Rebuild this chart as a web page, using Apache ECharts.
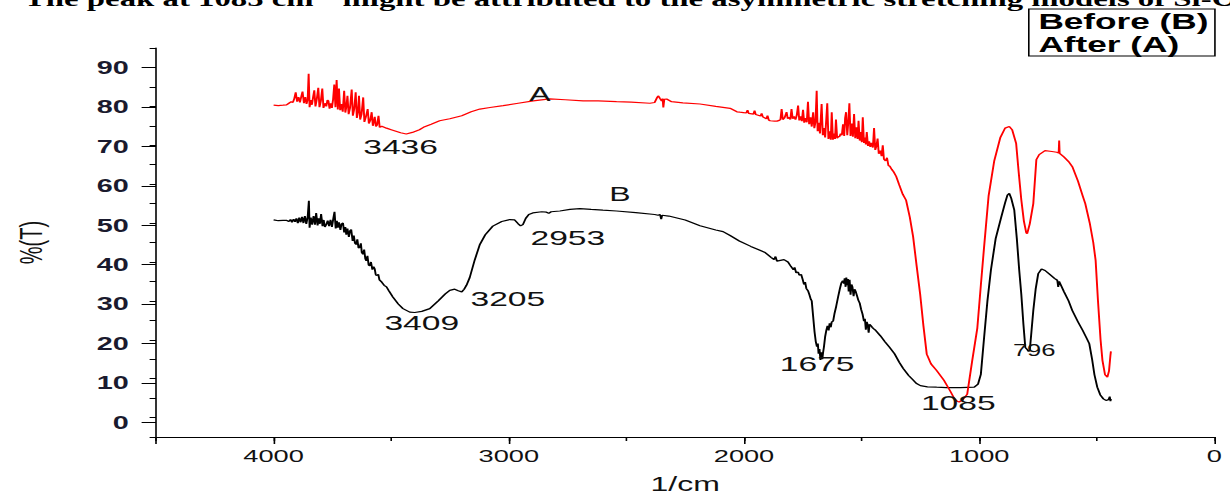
<!DOCTYPE html>
<html><head><meta charset="utf-8">
<script src="https://cdn.jsdelivr.net/npm/echarts@6/dist/echarts.min.js"></script>
<style>
html,body{margin:0;padding:0;background:#fff;overflow:hidden;width:1230px;height:499px}
#chart{width:768.75px;height:499px;transform:scaleX(1.6);transform-origin:0 0}
</style></head><body><div id="chart"></div>
<script>
// ---------------- data (wavenumber cm^-1, %T) ----------------
const afterA = [
[4000,80.3],[3980,80.2],[3960,80.3],[3945,80.4],[3935,80.8],[3925,81.2],[3918,81.0],[3912,82.0],[3906,83.6],[3900,81.2],
[3894,82.4],[3888,81.0],[3882,82.6],[3877,83.8],[3871,80.8],[3865,82.4],[3860,80.6],[3855,81.8],[3851,88.4],[3847,79.8],
[3842,81.6],[3837,80.4],[3832,82.4],[3827,84.1],[3822,80.0],[3816,82.0],[3810,84.8],[3805,79.8],[3799,81.4],[3793,84.6],
[3788,79.6],[3782,80.8],[3776,80.0],[3771,81.6],[3767,81.4],[3762,79.4],[3757,80.8],[3752,79.6],[3747,81.8],[3742,85.6],
[3737,79.8],[3732,86.8],[3727,79.2],[3722,84.6],[3717,79.0],[3712,80.6],[3706,78.6],[3700,84.0],[3695,78.4],[3690,80.2],
[3686,82.7],[3681,78.0],[3675,79.6],[3668,84.3],[3663,77.6],[3657,79.4],[3651,83.6],[3646,77.0],[3641,78.6],[3637,82.7],
[3632,76.6],[3626,78.0],[3619,82.3],[3614,76.0],[3608,77.2],[3600,79.3],[3595,75.6],[3589,76.4],[3583,78.5],[3578,75.0],
[3574,76.0],[3570,77.3],[3565,74.8],[3560,75.2],[3554,77.6],[3549,74.6],[3540,74.9],[3520,74.4],[3500,74.0],[3480,73.6],
[3460,73.2],[3436,72.9],[3410,73.3],[3380,74.0],[3363,74.6],[3330,75.4],[3294,76.3],[3251,76.8],[3200,77.6],[3160,78.6],
[3123,79.3],[3080,79.7],[3024,80.2],[2960,80.8],[2896,81.4],[2826,81.9],[2760,81.7],[2684,81.4],[2620,81.4],[2542,81.2],
[2480,81.1],[2400,80.8],[2380,81.0],[2370,82.2],[2365,82.7],[2357,82.0],[2350,81.4],[2346,82.0],[2343,79.7],[2339,81.8],
[2329,81.9],[2308,81.2],[2260,80.9],[2187,80.6],[2120,80.0],[2059,79.5],[2030,78.6],[2017,78.5],[2003,78.4],[1990,78.3],
[1985,79.0],[1980,78.2],[1960,78.0],[1955,78.9],[1950,77.9],[1930,77.5],[1925,78.2],[1920,77.3],[1905,76.8],[1900,77.6],
[1895,76.5],[1889,76.3],[1870,76.2],[1860,76.2],[1850,76.4],[1845,76.6],[1840,79.3],[1835,76.6],[1828,77.0],[1819,78.5],
[1814,76.8],[1808,77.2],[1803,76.6],[1798,79.3],[1793,76.8],[1787,77.4],[1781,76.6],[1776,77.6],[1770,80.2],[1765,76.4],
[1760,77.4],[1754,76.2],[1749,79.1],[1744,75.8],[1738,77.0],[1733,75.9],[1728,81.2],[1723,75.4],[1717,77.2],[1712,74.8],
[1706,78.5],[1701,74.4],[1696,76.0],[1691,84.0],[1687,73.6],[1682,75.8],[1677,73.0],[1670,80.6],[1665,72.6],[1660,74.4],
[1655,72.0],[1646,80.8],[1641,71.6],[1636,73.6],[1631,71.4],[1627,78.5],[1622,71.4],[1617,73.0],[1613,71.6],[1609,76.6],
[1604,71.8],[1599,72.2],[1594,72.2],[1589,73.0],[1584,72.6],[1579,75.4],[1574,72.4],[1570,77.0],[1566,78.5],[1561,72.6],
[1556,76.4],[1552,80.8],[1547,72.4],[1542,75.6],[1537,72.2],[1532,78.0],[1527,71.8],[1522,74.6],[1517,71.6],[1513,76.3],
[1508,71.2],[1503,73.4],[1499,70.8],[1495,77.2],[1490,70.6],[1485,72.0],[1482,70.2],[1478,73.4],[1473,69.8],[1468,71.0],
[1463,69.6],[1458,70.6],[1452,69.4],[1447,74.4],[1442,68.8],[1437,69.8],[1432,71.7],[1427,67.8],[1420,68.6],[1415,67.2],
[1410,70.0],[1405,66.4],[1398,66.0],[1392,66.8],[1386,64.8],[1380,64.6],[1372,63.8],[1364,63.2],[1353,62.0],[1340,59.8],
[1325,57.4],[1311,55.9],[1295,51.5],[1281,46.5],[1266,39.0],[1251,31.7],[1237,23.5],[1223,16.3],[1205,13.8],[1181,12.1],
[1150,9.6],[1123,6.8],[1105,4.8],[1094,4.2],[1085,4.0],[1070,4.6],[1051,6.0],[1030,14.5],[1008,23.0],[993,34.0],
[979,44.0],[960,57.0],[936,66.0],[910,72.0],[890,74.4],[872,74.8],[860,74.0],[843,70.5],[832,63.0],[821,56.0],
[810,50.5],[800,47.5],[796,47.3],[785,49.8],[770,55.0],[757,66.3],[745,67.6],[720,68.6],[691,68.4],[670,68.2],
[662,68.0],[660,71.2],[658,67.9],[640,67.0],[620,65.8],[604,64.5],[580,60.8],[560,57.0],[549,55.0],[530,50.0],
[515,45.0],[505,40.4],[495,30.0],[484,20.0],[476,14.7],[465,11.0],[455,10.4],[448,12.0],[442,16.0],[440,17.0]
];
const beforeB = [
[4000,50.8],[3980,50.6],[3960,50.7],[3946,50.7],[3935,50.4],[3928,50.9],[3922,50.2],[3915,51.0],[3909,50.3],[3903,51.2],
[3897,50.0],[3891,51.4],[3885,50.2],[3879,51.6],[3873,50.0],[3867,51.8],[3861,49.8],[3855,51.6],[3850,55.7],[3847,48.8],
[3842,51.4],[3836,49.6],[3830,51.8],[3824,49.6],[3819,52.6],[3813,49.4],[3808,51.2],[3803,49.8],[3798,52.3],[3792,49.2],
[3787,50.8],[3782,49.0],[3776,49.6],[3770,50.6],[3764,49.2],[3758,50.8],[3752,49.0],[3746,51.2],[3741,52.9],[3736,48.6],
[3731,50.6],[3727,48.8],[3722,50.2],[3716,48.2],[3711,49.8],[3705,50.0],[3700,47.6],[3695,49.0],[3691,47.0],[3686,48.6],
[3680,46.4],[3675,48.0],[3670,48.3],[3664,45.4],[3659,46.8],[3654,44.8],[3649,44.5],[3644,45.8],[3639,43.6],[3634,43.7],
[3629,44.8],[3625,42.4],[3620,42.0],[3615,43.2],[3610,40.8],[3606,40.3],[3601,41.6],[3596,39.2],[3591,39.0],[3586,40.0],
[3580,38.0],[3575,38.8],[3570,38.2],[3566,36.8],[3563,36.5],[3555,36.8],[3550,35.4],[3540,34.8],[3530,34.0],[3520,33.6],
[3510,32.6],[3493,31.0],[3470,29.2],[3450,28.0],[3421,27.1],[3400,27.0],[3370,27.3],[3336,28.0],[3300,30.0],[3270,31.8],
[3251,32.7],[3230,33.0],[3215,32.6],[3200,32.3],[3190,33.0],[3180,34.0],[3166,36.0],[3145,40.5],[3123,44.5],[3100,47.0],
[3068,49.2],[3030,50.4],[2996,50.9],[2975,50.8],[2960,49.8],[2950,49.3],[2940,49.6],[2928,51.2],[2915,52.2],[2898,52.6],
[2860,52.9],[2840,52.8],[2830,52.5],[2820,52.9],[2783,53.1],[2740,53.5],[2698,53.7],[2650,53.5],[2600,53.3],[2542,53.1],
[2460,52.7],[2380,52.2],[2365,52.0],[2357,52.2],[2352,51.0],[2348,52.0],[2320,51.8],[2250,50.8],[2187,49.3],[2120,48.2],
[2089,47.8],[2059,46.8],[2020,45.4],[1971,44.0],[1940,43.2],[1910,42.4],[1885,41.2],[1872,40.6],[1866,41.4],[1860,40.2],
[1845,40.4],[1830,40.6],[1813,40.0],[1800,38.8],[1790,38.0],[1785,38.6],[1778,37.2],[1770,37.4],[1765,36.6],[1757,36.8],
[1750,35.4],[1745,34.2],[1740,34.8],[1735,33.2],[1728,32.6],[1722,31.6],[1716,30.4],[1712,30.0],[1706,26.0],[1700,22.0],
[1695,19.6],[1690,18.2],[1686,19.0],[1683,16.4],[1679,17.6],[1675,14.8],[1671,16.8],[1667,15.0],[1664,16.6],[1660,18.2],
[1655,20.8],[1650,22.4],[1645,23.6],[1640,22.4],[1636,24.2],[1631,23.2],[1627,24.6],[1621,24.8],[1615,26.8],[1608,28.6],
[1600,31.0],[1592,33.2],[1586,34.6],[1580,35.2],[1575,34.4],[1572,35.8],[1568,33.6],[1565,36.0],[1561,34.0],[1558,35.6],
[1555,32.4],[1551,35.4],[1547,31.6],[1543,34.2],[1539,33.6],[1534,31.2],[1530,33.0],[1525,32.4],[1520,31.4],[1514,30.2],
[1508,29.4],[1502,27.8],[1496,26.6],[1490,24.8],[1486,25.4],[1482,22.6],[1478,24.6],[1474,23.8],[1470,21.8],[1466,24.0],
[1460,23.6],[1455,23.2],[1448,22.8],[1440,22.4],[1420,21.0],[1400,19.4],[1383,18.2],[1360,16.4],[1340,14.2],[1323,12.6],
[1300,10.8],[1280,9.6],[1268,8.8],[1250,8.2],[1220,7.9],[1181,7.8],[1140,7.7],[1080,7.7],[1021,7.8],[1005,8.6],
[993,11.1],[980,20.0],[965,30.0],[950,38.0],[930,46.0],[906,51.6],[890,55.2],[880,57.2],[872,57.6],[864,56.4],
[851,53.4],[840,46.0],[830,38.0],[821,31.7],[812,24.0],[804,18.0],[796,17.5],[790,17.0],[785,17.2],[778,22.0],
[770,27.5],[760,33.0],[749,37.0],[735,38.2],[720,37.8],[700,36.8],[680,35.8],[668,35.3],[664,33.6],[660,35.0],
[640,32.4],[620,30.0],[604,27.5],[580,24.6],[560,22.4],[545,20.6],[532,19.0],[520,15.0],[510,11.0],[498,7.8],
[485,5.8],[472,4.8],[461,4.4],[450,4.6],[445,5.4],[442,4.2],[440,4.8]
];
// peak annotations: [text, wavenumber, %T]
const labelsA = [['A',2868,83.1],['3436',3460,69.6]];
const labelsB = [['B',2528,57.4],['2953',2749,46.2],['3205',3004,30.6],['3409',3370,24.4],['1675',1689,13.7],['1085',1089,3.7],['796',766,17.2]];
const xMajorTicks = [0,1000,2000,3000,4000];
const seriesNames = ['Before (B)','After (A)'];
const topText = 'The peak at 1085 cm\u207B\u00B9 might be attributed to the asymmetric stretching models of Si-O';

// ---------------- chart ----------------
const FONT = '"Liberation Sans", Arial, sans-serif';
const chart = echarts.init(document.getElementById('chart'), null, {renderer:'svg'});
function marks(list){
  return list.map(([t,x,y]) => ({
    name:t, coord:[x,y],
    label:{fontSize: t==='796'?16:(t.length===1?20:21)}
  }));
}
const markCfg = (list) => ({
  silent:true, symbol:'circle', symbolSize:1,
  itemStyle:{color:'rgba(0,0,0,0)'},
  label:{show:true, position:'inside', formatter:'{b}', color:'#111', fontFamily:FONT},
  data: marks(list)
});
const axisLineStyle = {color:'#000', width:1};
chart.setOption({
  animation:false,
  backgroundColor:'#fff',
  graphic:[{
    type:'text', left:15, top:-11.5, silent:true, z:0,
    style:{text:topText, fill:'#000', font:'bold 20.5px "Liberation Serif", "Times New Roman", serif'}
  }],
  legend:{
    orient:'vertical', left:643, top:9, data:seriesNames,
    itemWidth:0, itemHeight:0, itemGap:1, padding:[1,4,1,0],
    borderColor:'#000', borderWidth:1, backgroundColor:'#fff',
    itemStyle:{opacity:0}, lineStyle:{opacity:0},
    textStyle:{fontSize:22, fontWeight:'bold', color:'#000', fontFamily:FONT}
  },
  grid:[
    {left:97.5, right:10, top:48, bottom:57},
    {left:97.5, right:10, top:67.7, bottom:76.7}
  ],
  xAxis:[
    {gridIndex:0, type:'value', min:0, max:4500, interval:1000, inverse:true,
     axisLine:{onZero:false, lineStyle:axisLineStyle},
     axisTick:{length:7, lineStyle:{color:'#000'}},
     axisLabel:{formatter:v => xMajorTicks.includes(v)?String(v):'', fontSize:17, color:'#111', fontFamily:FONT, margin:11},
     splitLine:{show:false},
     name:'1/cm', nameLocation:'middle', nameGap:37,
     nameTextStyle:{fontSize:20, color:'#111', fontFamily:FONT}},
    {gridIndex:0, type:'value', min:0, max:4500, interval:500, inverse:true, position:'bottom',
     axisLine:{show:false, onZero:false}, axisTick:{length:4, lineStyle:{color:'#000'}},
     axisLabel:{show:false}, splitLine:{show:false}},
    {gridIndex:1, type:'value', min:0, max:4500, inverse:true, show:false}
  ],
  yAxis:[
    {gridIndex:0, type:'value', min:-5, max:95, interval:5,
     axisLine:{show:true, onZero:false, lineStyle:axisLineStyle},
     axisTick:{show:true, length:4, lineStyle:{color:'#000'}},
     axisLabel:{show:false}, splitLine:{show:false},
     name:'%(T)', nameLocation:'middle', nameGap:68,
     nameTextStyle:{fontSize:20, color:'#111', fontFamily:FONT}},
    {gridIndex:1, type:'value', min:0, max:90, interval:10,
     axisLine:{show:false, onZero:false},
     axisTick:{show:true, length:9, lineStyle:{color:'#000'}},
     axisLabel:{fontSize:18, fontWeight:'bold', color:'#1a1a2e', fontFamily:FONT, margin:17},
     splitLine:{show:false}}
  ],
  series:[
    {name:seriesNames[0], type:'line', xAxisIndex:0, yAxisIndex:0, data:beforeB,
     showSymbol:false, symbol:'none', lineStyle:{color:'#000', width:1.2}, itemStyle:{color:'#000'},
     markPoint:markCfg(labelsB)},
    {name:seriesNames[1], type:'line', xAxisIndex:0, yAxisIndex:0, data:afterA,
     showSymbol:false, symbol:'none', lineStyle:{color:'#ff0000', width:1.2}, itemStyle:{color:'#ff0000'},
     markPoint:markCfg(labelsA)}
  ]
});
</script></body></html>
